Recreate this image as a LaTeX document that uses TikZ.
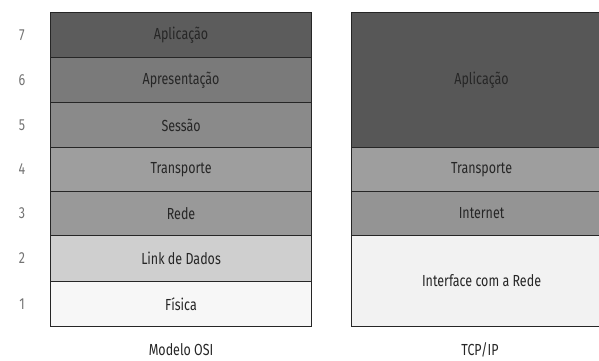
\documentclass[tikz,border=0pt]{standalone}
\usepackage{fontspec}
\setmainfont{Fira Sans}[FakeStretch=0.78]
\begin{document}
\begin{tikzpicture}[x=1pt,y=-1pt,
  layer/.style={draw=black!85,line width=1.1pt,anchor=north west,inner sep=0pt,
    text=black!85,font=\fontsize{16}{18}\selectfont},
  num/.style={text=black!55,font=\fontsize{16}{18}\selectfont},
  caption/.style={text=black!85,font=\fontsize{16}{18}\selectfont}]
\useasboundingbox (0,0) rectangle (599,360);
% OSI model stack
\node[layer,fill=black!64,minimum width=261pt,minimum height=45pt] (a7) at (50,12) {Aplicação};
\node[layer,fill=black!52,minimum width=261pt,minimum height=45pt] (a6) at (50,57) {Apresentação};
\node[layer,fill=black!46,minimum width=261pt,minimum height=45pt] (a5) at (50,102) {Sessão};
\node[layer,fill=black!38,minimum width=261pt,minimum height=44pt] (a4) at (50,147) {Transporte};
\node[layer,fill=black!40,minimum width=261pt,minimum height=44pt] (a3) at (50,191) {Rede};
\node[layer,fill=black!19,minimum width=261pt,minimum height=46pt] (a2) at (50,235) {Link de Dados};
\node[layer,fill=black!3,minimum width=261pt,minimum height=45pt] (a1) at (50,281) {Física};
% layer numbers
\foreach \n in {1,...,7} \node[num] (n\n) at (22,0 |- a\n.center) {\n};
\node[caption] (osi) at (a1.south |- 0,350) {Modelo OSI};
% TCP/IP stack
\node[layer,fill=black!66,minimum width=260pt,minimum height=135pt] (b4) at (351,12) {Aplicação};
\node[layer,fill=black!38,minimum width=260pt,minimum height=44pt] (b3) at (351,147) {Transporte};
\node[layer,fill=black!42,minimum width=260pt,minimum height=44pt] (b2) at (351,191) {Internet};
\node[layer,fill=black!5,minimum width=260pt,minimum height=91pt] (b1) at (351,235) {Interface com a Rede};
\node[caption] (tcp) at (480,350) {TCP/IP};
\end{tikzpicture}
\end{document}
